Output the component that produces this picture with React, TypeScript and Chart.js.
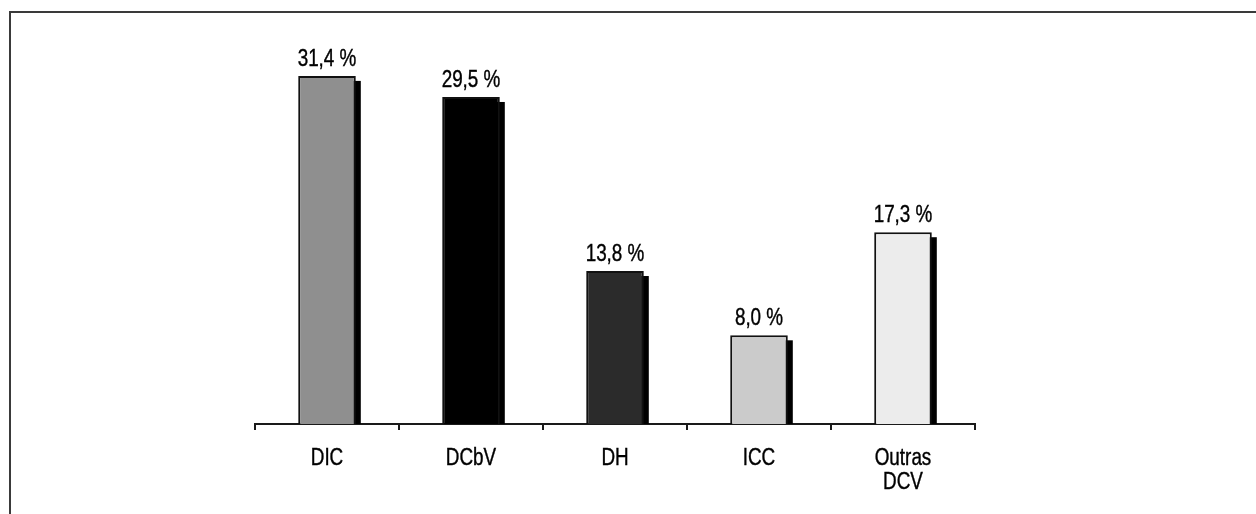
import React, { useEffect, useRef } from "react";
import { Chart, registerables } from "chart.js";

Chart.register(...registerables);

const categories: string[][] = [["DIC"], ["DCbV"], ["DH"], ["ICC"], ["Outras", "DCV"]];
const values: number[] = [31.4, 29.5, 13.8, 8.0, 17.3];
const valueLabels: string[] = ["31,4 %", "29,5 %", "13,8 %", "8,0 %", "17,3 %"];
const barColors: string[] = ["#8f8f8f", "#000000", "#2b2b2b", "#cbcbcb", "#ececec"];

const FONT = "23px 'Liberation Sans', Arial, sans-serif";
const NARROW = 0.82;

function drawNarrowText(ctx: CanvasRenderingContext2D, text: string, x: number, y: number) {
  ctx.save();
  ctx.translate(x, y);
  ctx.scale(NARROW, 1);
  ctx.strokeText(text, 0, 0);
  ctx.fillText(text, 0, 0);
  ctx.restore();
}

const shadowPlugin = {
  id: "barShadow",
  beforeDatasetsDraw(chart: any) {
    const ctx = chart.ctx;
    const area = chart.chartArea;
    const meta = chart.getDatasetMeta(0);
    ctx.save();
    ctx.beginPath();
    ctx.rect(area.left, area.top, area.right - area.left, area.bottom - area.top);
    ctx.clip();
    ctx.fillStyle = "#000000";
    meta.data.forEach((bar: any) => {
      const p = bar.getProps(["x", "y", "base", "width"], true);
      ctx.fillRect(p.x - p.width / 2 + 5, p.y + 5, p.width, p.base - p.y);
    });
    ctx.restore();
  },
};

const labelPlugin = {
  id: "labels",
  afterDraw(chart: any) {
    const ctx = chart.ctx;
    const meta = chart.getDatasetMeta(0);
    const xScale = chart.scales.x;
    ctx.save();
    ctx.font = FONT;
    ctx.fillStyle = "#000000";
    ctx.strokeStyle = "#000000";
    ctx.lineWidth = 0.4;
    ctx.textAlign = "center";
    ctx.textBaseline = "alphabetic";
    meta.data.forEach((bar: any, i: number) => {
      drawNarrowText(ctx, valueLabels[i], bar.x, bar.y - 10);
    });
    const base = chart.chartArea.bottom;
    categories.forEach((lines, i) => {
      const x = xScale.getPixelForValue(i);
      lines.forEach((line, j) => {
        drawNarrowText(ctx, line, x, base + 41 + j * 24);
      });
    });
    ctx.restore();
  },
};

export default function App() {
  const ref = useRef<HTMLCanvasElement | null>(null);
  useEffect(() => {
    if (!ref.current) return;
    const chart = new Chart(ref.current, {
      type: "bar",
      data: {
        labels: categories.map((c) => c.join(" ")),
        datasets: [
          {
            data: values,
            backgroundColor: barColors,
            borderColor: "#111111",
            borderWidth: 2,
            categoryPercentage: 1,
            barPercentage: 0.4,
          },
        ],
      },
      options: {
        responsive: false,
        animation: false,
        devicePixelRatio: 1,
        layout: { padding: { left: 255, right: 281, top: 36, bottom: 0 } },
        plugins: { legend: { display: false }, tooltip: { enabled: false } },
        scales: {
          x: {
            z: 1,
            afterFit: (axis: any) => {
              axis.height = 90;
            },
            grid: {
              offset: true,
              drawOnChartArea: false,
              drawTicks: true,
              tickLength: 6,
              color: "#1a1a1a",
              lineWidth: 2,
            },
            border: { display: true, color: "#1a1a1a", width: 2 },
            ticks: { display: false },
          },
          y: {
            display: false,
            min: 0,
            max: 35,
          },
        },
      },
      plugins: [shadowPlugin, labelPlugin],
    });
    return () => chart.destroy();
  }, []);

  return (
    <div style={{ position: "fixed", left: 0, top: 0, width: 1256, height: 514, background: "#ffffff", overflow: "hidden" }}>
      <div
        style={{
          position: "absolute",
          left: 9,
          top: 11,
          width: 2000,
          height: 2000,
          borderLeft: "2px solid #3a3a3a",
          borderTop: "2px solid #3a3a3a",
        }}
      />
      <canvas ref={ref} width={1256} height={514} style={{ position: "absolute", left: 0, top: 0, width: 1256, height: 514 }} />
    </div>
  );
}
